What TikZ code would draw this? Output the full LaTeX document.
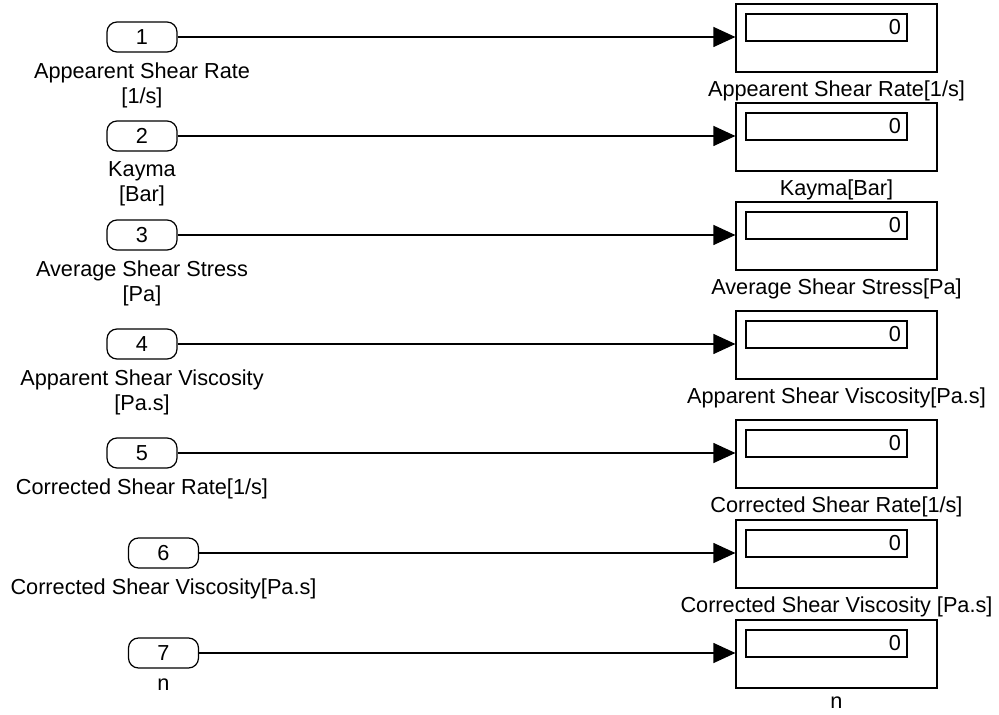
\documentclass[tikz,border=0pt]{standalone}
\usepackage{fontspec}
\setmainfont{Liberation Sans}
\usetikzlibrary{positioning,arrows.meta}

\tikzset{
  blk/.style={font=\fontsize{10.85}{12.5}\selectfont},
  inport/.style={blk, draw, line width=0.6pt, rounded corners=5pt,
    minimum width=35pt, minimum height=15pt, inner sep=0pt},
  display/.style={draw, line width=0.6pt, minimum width=100.5pt,
    minimum height=34pt, inner sep=0pt},
  readout/.style={blk, draw, line width=0.6pt, minimum height=13.5pt,
    text width=74.5pt, inner xsep=3pt, inner ysep=0pt, align=right},
  lbl/.style={blk, inner sep=0pt, align=center},
  sig/.style={line width=0.6pt, -{Triangle[length=11pt, width=10pt]}}
}

\begin{document}
\begin{tikzpicture}[x=0.5pt, y=-0.5pt]
  \useasboundingbox (0,0) rectangle (999,715);

  % Row 1
  \node[inport] (in1) at (142,37) {1};
  \node[lbl, below=5pt of in1] (inl1) {Appearent Shear Rate\\{[1/s]}};
  \node[display] (disp1) at (836.5,38) {};
  \node[readout] (rd1) at (826.5,27.5) {0};
  \node[lbl, below=4pt of disp1] (dl1) {Appearent Shear Rate[1/s]};
  \draw[sig] (in1.east) -- (in1.east -| disp1.west);

  % Row 2
  \node[inport] (in2) at (142,136) {2};
  \node[lbl, below=5pt of in2] (inl2) {Kayma\\{[Bar]}};
  \node[display] (disp2) at (836.5,137) {};
  \node[readout] (rd2) at (826.5,126.5) {0};
  \node[lbl, below=4pt of disp2] (dl2) {Kayma[Bar]};
  \draw[sig] (in2.east) -- (in2.east -| disp2.west);

  % Row 3
  \node[inport] (in3) at (142,235) {3};
  \node[lbl, below=5pt of in3] (inl3) {Average Shear Stress\\{[Pa]}};
  \node[display] (disp3) at (836.5,236) {};
  \node[readout] (rd3) at (826.5,225.5) {0};
  \node[lbl, below=4pt of disp3] (dl3) {Average Shear Stress[Pa]};
  \draw[sig] (in3.east) -- (in3.east -| disp3.west);

  % Row 4
  \node[inport] (in4) at (142,344) {4};
  \node[lbl, below=5pt of in4] (inl4) {Apparent Shear Viscosity\\{[Pa.s]}};
  \node[display] (disp4) at (836.5,345) {};
  \node[readout] (rd4) at (826.5,334.5) {0};
  \node[lbl, below=4pt of disp4] (dl4) {Apparent Shear Viscosity[Pa.s]};
  \draw[sig] (in4.east) -- (in4.east -| disp4.west);

  % Row 5
  \node[inport] (in5) at (142,453) {5};
  \node[lbl, below=5pt of in5] (inl5) {Corrected Shear Rate[1/s]};
  \node[display] (disp5) at (836.5,454) {};
  \node[readout] (rd5) at (826.5,443.5) {0};
  \node[lbl, below=4pt of disp5] (dl5) {Corrected Shear Rate[1/s]};
  \draw[sig] (in5.east) -- (in5.east -| disp5.west);

  % Row 6
  \node[inport] (in6) at (163.5,553) {6};
  \node[lbl, below=5pt of in6] (inl6) {Corrected Shear Viscosity[Pa.s]};
  \node[display] (disp6) at (836.5,554) {};
  \node[readout] (rd6) at (826.5,543.5) {0};
  \node[lbl, below=4pt of disp6] (dl6) {Corrected Shear Viscosity [Pa.s]};
  \draw[sig] (in6.east) -- (in6.east -| disp6.west);

  % Row 7
  \node[inport] (in7) at (163.5,653) {7};
  \node[lbl, below=5pt of in7] (inl7) {n};
  \node[display] (disp7) at (836.5,654) {};
  \node[readout] (rd7) at (826.5,643.5) {0};
  \node[lbl, below=4pt of disp7] (dl7) {n};
  \draw[sig] (in7.east) -- (in7.east -| disp7.west);
\end{tikzpicture}
\end{document}
